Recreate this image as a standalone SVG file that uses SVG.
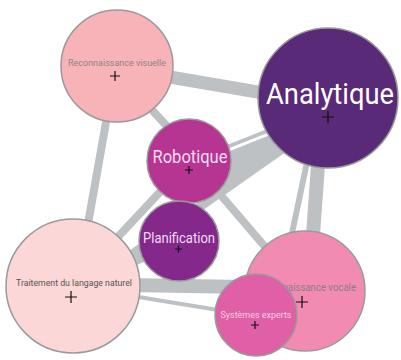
<svg xmlns="http://www.w3.org/2000/svg" width="401" height="360" viewBox="0 0 401 360">
<style>
.e{stroke:#bec1c4;fill:none;stroke-linecap:butt}
.n{stroke:#9a9a9a;stroke-width:1.5}
.t{font-family:Roboto,"Liberation Sans",sans-serif;text-anchor:middle}
.p{stroke:#111;stroke-width:1.2}
</style>
<rect width="401" height="360" fill="#fff"/>
<g id="connectors">
<line class="e" x1="117" y1="68" x2="328" y2="104" stroke-width="13"/>
<line class="e" x1="115" y1="70" x2="189" y2="150" stroke-width="8"/>
<line class="e" x1="116" y1="66" x2="75" y2="297" stroke-width="8"/>
<line class="e" x1="189" y1="162" x2="328" y2="107" stroke-width="4"/>
<polygon points="215,157 300,123 300,140 215,192" fill="#bec1c4"/>
<line class="e" x1="71" y1="297" x2="328" y2="117" stroke-width="9"/>
<line class="e" x1="73" y1="285" x2="189" y2="161" stroke-width="8"/>
<line class="e" x1="73" y1="285" x2="179" y2="241" stroke-width="12"/>
<line class="e" x1="71" y1="284" x2="302" y2="288" stroke-width="14"/>
<line class="e" x1="71" y1="286" x2="255" y2="316" stroke-width="4"/>
<line class="e" x1="189" y1="158" x2="302" y2="290" stroke-width="8"/>
<line class="e" x1="318" y1="110" x2="280" y2="290" stroke-width="6"/>
<line class="e" x1="322" y1="110" x2="309" y2="290" stroke-width="14"/>
</g>
<g id="reconnaissance-visuelle">
<circle class="n" cx="117" cy="66" r="56" fill="#f7b3b8"/>
<text class="t" x="117" y="66" font-size="9.5" fill="#8f8589" textLength="98" lengthAdjust="spacingAndGlyphs">Reconnaissance visuelle</text>
<path class="p" d="M110,76h10M115,71v10"/>
</g>
<g id="analytique">
<circle class="n" cx="328" cy="98" r="70" fill="#582a77"/>
<text class="t" x="330" y="104" font-size="29" fill="#fff" textLength="128" lengthAdjust="spacingAndGlyphs">Analytique</text>
<path class="p" d="M322,117h12M328,111v12"/>
</g>
<g id="robotique">
<circle class="n" cx="189" cy="161" r="42" fill="#b73592"/>
<text class="t" x="190" y="163" font-size="18" fill="#f2dced" textLength="75" lengthAdjust="spacingAndGlyphs">Robotique</text>
<path class="p" d="M185,170h8M189,166v8"/>
</g>
<g id="planification">
<circle class="n" cx="179" cy="241" r="40" fill="#84288c"/>
<text class="t" x="179" y="243" font-size="14.5" fill="#f2def2" textLength="72" lengthAdjust="spacingAndGlyphs">Planification</text>
<path class="p" d="M175,249h7M178.5,245.5v7"/>
</g>
<g id="traitement-du-langage-naturel">
<circle class="n" cx="73" cy="286" r="67" fill="#fcd7d7"/>
<text class="t" x="74" y="286" font-size="9.5" fill="#555" textLength="116" lengthAdjust="spacingAndGlyphs">Traitement du langage naturel</text>
<path class="p" d="M65,297h12M71,291v12"/>
</g>
<g id="reconnaissance-vocale">
<circle class="n" cx="305" cy="291" r="60" fill="#f28bb1"/>
<text class="t" x="306" y="291" font-size="10" fill="#8f7d86" textLength="100" lengthAdjust="spacingAndGlyphs">Reconnaissance vocale</text>
<path class="p" d="M296,302h12M302,296v12"/>
</g>
<g id="systemes-experts">
<circle class="n" cx="256" cy="315" r="41" fill="#df60a7"/>
<text class="t" x="256" y="318" font-size="9.5" fill="#f9cde3" textLength="71" lengthAdjust="spacingAndGlyphs">Systèmes experts</text>
<path class="p" d="M251,325h8M255,321v8"/>
</g>
</svg>
